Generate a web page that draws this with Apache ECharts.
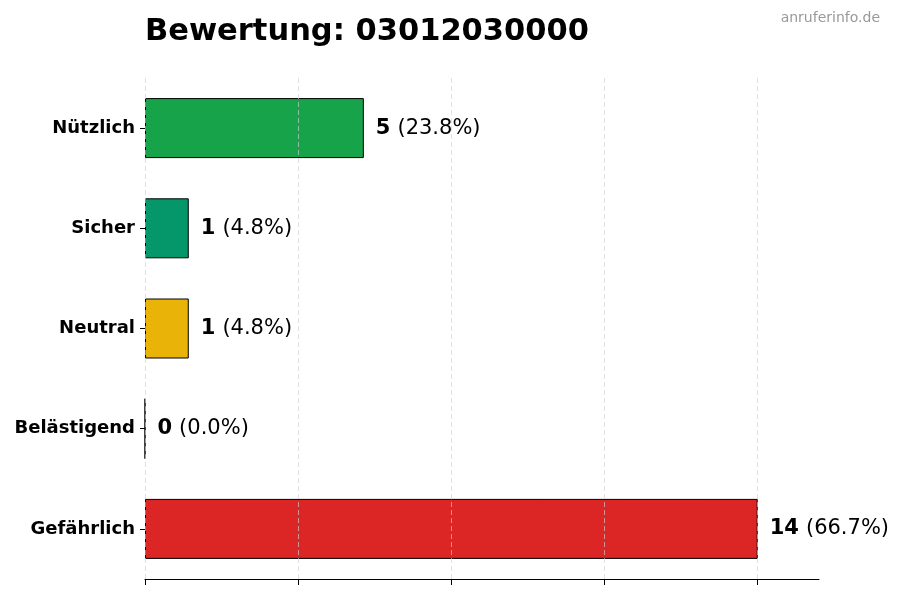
<!DOCTYPE html>
<html>
<head>
<meta charset="utf-8">
<script src="https://cdn.jsdelivr.net/npm/echarts@6/dist/echarts.min.js"></script>
<style>
  html, body { margin: 0; padding: 0; background: #fff; }
  #chart { width: 900px; height: 600px; }
</style>
</head>
<body>
<div id="chart"></div>
<script>
const categories = ["Nützlich", "Sicher", "Neutral", "Belästigend", "Gefährlich"];
const counts = [5, 1, 1, 0, 14];
const percents = ["23.8", "4.8", "4.8", "0.0", "66.7"];
const colors = ["#16a34a", "#059669", "#eab308", "#9ca3af", "#dc2626"];
const xTickValues = [0, 3.5, 7, 10.5, 14];
const xMax = 15.4;

const font = "DejaVu Sans";

const chart = echarts.init(document.getElementById("chart"));

const option = {
  animation: false,
  textStyle: { fontFamily: font },
  title: [
    {
      text: "Bewertung: 03012030000",
      left: 140,
      top: 12,
      textStyle: { fontFamily: font, fontSize: 30.5, fontWeight: "bold", color: "#000" }
    },
    {
      text: "anruferinfo.de",
      right: 15,
      top: 6,
      textStyle: { fontFamily: font, fontSize: 14, fontWeight: "normal", color: "#999" }
    }
  ],
  grid: { left: 145, right: 81, top: 78, bottom: 21 },
  xAxis: {
    type: "value",
    min: 0,
    max: xMax,
    z: 3,
    axisLabel: { show: false },
    axisLine: { show: true, lineStyle: { color: "#000", width: 1.2 } },
    axisTick: { show: true, length: 6, customValues: xTickValues, lineStyle: { color: "#000" } },
    splitLine: { show: false }
  },
  yAxis: {
    type: "category",
    data: categories,
    inverse: true,
    axisLine: { show: false },
    axisTick: { show: true, alignWithLabel: true, length: 5, lineStyle: { color: "#000" } },
    axisLabel: { fontFamily: font, fontSize: 18, fontWeight: "bold", color: "#000", margin: 10 },
    splitLine: { show: false }
  },
  series: [
    {
      type: "bar",
      barWidth: 60,
      z: 1,
      data: counts.map((v, i) => ({
        value: v,
        itemStyle: { color: colors[i], borderColor: "#000", borderWidth: 1 }
      })),
      label: {
        show: true,
        position: "right",
        distance: 12,
        formatter: p => "{b|" + counts[p.dataIndex] + "}{s| }{n|(" + percents[p.dataIndex] + "%)}",
        rich: {
          b: { fontFamily: font, fontSize: 21, fontWeight: "bold", color: "#000" },
          s: { fontFamily: font, fontSize: 21, width: 7, color: "#000" },
          n: { fontFamily: font, fontSize: 21, color: "#000" }
        }
      },
      // dashed vertical grid lines at the tick positions, drawn above the bars
      markLine: {
        silent: true,
        symbol: "none",
        z: 5,
        label: { show: false },
        lineStyle: { color: "#cfcfcf", type: [5, 3], width: 0.8, opacity: 0.8 },
        data: xTickValues.map(v => ({ xAxis: v }))
      }
    }
  ]
};

chart.setOption(option);
</script>
</body>
</html>
